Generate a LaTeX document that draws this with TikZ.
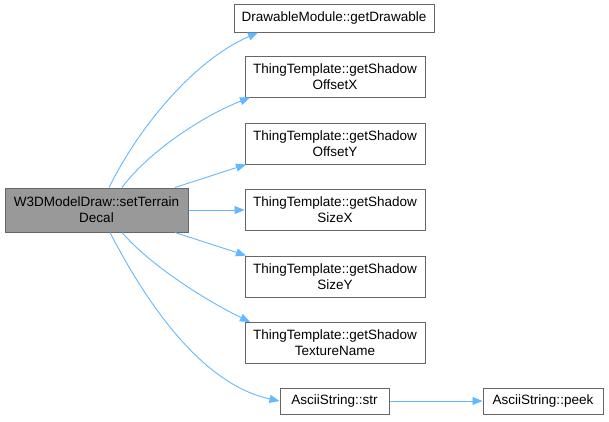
\documentclass[tikz,border=0pt]{standalone}
\usepackage{fontspec}
\setmainfont{Liberation Sans}
\usetikzlibrary{arrows.meta}
\definecolor{edgeblue}{HTML}{63B8FF}
\definecolor{boxborder}{HTML}{666666}
\definecolor{mainfill}{HTML}{999999}
\tikzset{
  fnbox/.style={draw=boxborder, line width=1pt, fill=white, inner sep=0pt, align=center,
    font=\fontsize{13.5}{16}\selectfont},
  mainbox/.style={fnbox, fill=mainfill},
  call/.style={draw=edgeblue, line width=0.9pt, -{Triangle[length=10pt,width=8pt]}},
}
\begin{document}
\begin{tikzpicture}[x=1pt,y=-1pt]
\useasboundingbox (0,0) rectangle (609,421);
\node[mainbox, minimum width=183pt, minimum height=44pt] (main) at (96.5,210) {W3DModelDraw::setTerrain\\Decal};
\node[fnbox, minimum width=200pt, minimum height=28pt] (draw) at (334,18) {DrawableModule::getDrawable};
\node[fnbox, minimum width=180pt, minimum height=41pt] (ox) at (335,76.5) {ThingTemplate::getShadow\\OffsetX};
\node[fnbox, minimum width=180pt, minimum height=41pt] (oy) at (335,143.5) {ThingTemplate::getShadow\\OffsetY};
\node[fnbox, minimum width=180pt, minimum height=41pt] (sx) at (335,210) {ThingTemplate::getShadow\\SizeX};
\node[fnbox, minimum width=180pt, minimum height=41pt] (sy) at (335,276.5) {ThingTemplate::getShadow\\SizeY};
\node[fnbox, minimum width=180pt, minimum height=41pt] (tn) at (335,343) {ThingTemplate::getShadow\\TextureName};
\node[fnbox, minimum width=109pt, minimum height=26pt] (str) at (334.5,401) {AsciiString::str};
\node[fnbox, minimum width=120pt, minimum height=26pt] (peek) at (543,401) {AsciiString::peek};

\draw[call] (main.north -| 109,0) .. controls (140,125) and (195,60) .. (draw.south -| 258,0);
\draw[call] (main.north -| 122,0) .. controls (150,150) and (205,115) .. (ox.south -| 250,0);
\draw[call] (main.north -| 175,0) -- (oy.south -| 246,0);
\draw[call] (main.east) -- (sx.west);
\draw[call] (main.south -| 175,0) -- (sy.north -| 246,0);
\draw[call] (main.south -| 122,0) .. controls (150,265) and (205,300) .. (tn.north -| 250,0);
\draw[call] (main.south -| 110,0) .. controls (150,310) and (205,385) .. (str.west);
\draw[call] (str.east) -- (peek.west);
\end{tikzpicture}
\end{document}
